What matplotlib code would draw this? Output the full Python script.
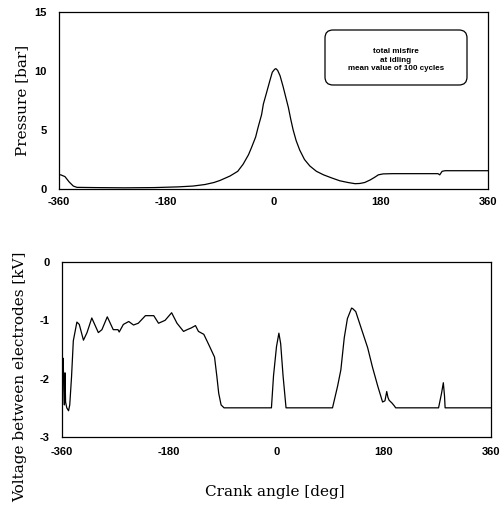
import matplotlib
matplotlib.use("Agg")
import matplotlib.pyplot as plt
from matplotlib.patches import FancyBboxPatch

plt.rcParams["axes.unicode_minus"] = False

# ---- data ----
x_ticks = [-360, -180, 0, 180, 360]
p_ticks = [0, 5, 10, 15]
v_ticks = [0, -1, -2, -3]

p_angle = [-360, -357, -350, -343, -336, -330, -300, -250, -200, -160, -135, -115,
           -100, -90, -73, -60, -51, -42, -37, -30, -26, -20, -17, -12, -6, -2,
           2, 4, 7, 11, 16, 20, 25, 29, 33, 38, 44, 52, 61, 72, 84, 97, 111, 125,
           137, 145, 153, 162, 170, 176, 184, 200, 235, 276, 279, 283, 288, 320, 360]
p_value = [1.2, 1.2, 1.05, 0.6, 0.25, 0.14, 0.12, 0.1, 0.12, 0.18, 0.25, 0.38,
           0.55, 0.72, 1.1, 1.5, 2.1, 2.9, 3.5, 4.4, 5.2, 6.3, 7.2, 8.1, 9.2, 9.9,
           10.15, 10.2, 10.05, 9.6, 8.7, 7.9, 6.9, 5.9, 5.0, 4.1, 3.3, 2.5, 1.95, 1.5, 1.2, 0.95, 0.7, 0.55,
           0.45, 0.47, 0.55, 0.76, 1.0, 1.2, 1.28, 1.3, 1.3, 1.3, 1.2, 1.5, 1.55, 1.55, 1.55]

v_angle = [-360, -359, -358, -357, -356, -355, -354, -352, -349, -347, -344, -341,
           -335, -331, -324, -318, -310, -299, -293, -284, -274, -266, -264, -257,
           -248, -240, -232, -220, -206, -198, -187, -176, -167, -156, -150, -143,
           -136, -131, -122, -114, -104, -100, -97, -93, -88,
           -8.5, -5, 0, 4, 7, 11, 16,
           94, 102.5, 108, 113.7, 119, 126, 128, 133, 142, 153, 161, 170, 178,
           182, 185, 187, 189, 194, 198, 200,
           272, 277, 280, 282, 283, 360]
v_value = [-2.3, -1.9, -1.65, -2.2, -2.45, -1.9, -2.4, -2.5, -2.55, -2.45, -1.97, -1.35,
           -1.03, -1.07, -1.34, -1.21, -0.96, -1.21, -1.16, -0.94, -1.16, -1.16, -1.2, -1.07,
           -1.02, -1.08, -1.05, -0.92, -0.92, -1.05, -1.0, -0.87, -1.05, -1.19, -1.16, -1.13,
           -1.09, -1.19, -1.24, -1.41, -1.63, -1.97, -2.25, -2.45, -2.5,
           -2.5, -1.95, -1.45, -1.22, -1.4, -1.95, -2.5,
           -2.5, -2.13, -1.85, -1.3, -0.97, -0.79, -0.8, -0.85, -1.13, -1.47, -1.8, -2.13, -2.4,
           -2.38, -2.22, -2.32, -2.37, -2.42, -2.47, -2.5,
           -2.5, -2.25, -2.07, -2.3, -2.5, -2.5]

legend_lines = "total misfire\nat idling\nmean value of 100 cycles"

# ---- figure ----
W, H = 500, 511
fig = plt.figure(figsize=(W / 100, H / 100), dpi=100)
fig.patch.set_facecolor("white")

def frac(l, t, r, b):
    return [l / W, 1 - b / H, (r - l) / W, (b - t) / H]

tick_font = dict(family="Liberation Sans", weight="bold", size=8)
label_font = dict(family="DejaVu Serif", size=11)

ax1 = fig.add_axes(frac(59, 12, 488, 189))
ax1.plot(p_angle, p_value, color="black", lw=0.9)
ax1.set_xlim(-360, 360)
ax1.set_ylim(0, 15)
ax1.set_xticks(x_ticks)
ax1.set_yticks(p_ticks)
ax1.tick_params(length=0, pad=6)
ax1.tick_params(axis="y", pad=9)

ax2 = fig.add_axes(frac(62, 262, 491, 437))
ax2.plot(v_angle, v_value, color="black", lw=0.9)
ax2.set_xlim(-360, 360)
ax2.set_ylim(-3, 0)
ax2.set_xticks(x_ticks)
ax2.set_yticks(v_ticks)
ax2.tick_params(length=0, pad=7)
ax2.tick_params(axis="y", pad=9)

for ax in (ax1, ax2):
    for s in ax.spines.values():
        s.set_linewidth(0.9)
    for lab in ax.get_xticklabels() + ax.get_yticklabels():
        lab.set_fontfamily(tick_font["family"])
        lab.set_fontweight(tick_font["weight"])
        lab.set_fontsize(tick_font["size"])

fig.text(22 / W, 1 - 100 / H, "Pressure [bar]", rotation=90, ha="center", va="center", **label_font)
fig.text(20 / W, 1 - 377 / H, "Voltage between electrodes [kV]", rotation=90, ha="center", va="center", **label_font)
fig.text(275 / W, 1 - 492 / H, "Crank angle [deg]", ha="center", va="center", **label_font)

box = FancyBboxPatch((325 / 100, (H - 85) / 100), 142 / 100, 55 / 100,
                     boxstyle="round,pad=0,rounding_size=0.08",
                     transform=fig.dpi_scale_trans, facecolor="white",
                     edgecolor="black", lw=0.9)
fig.patches.append(box)
fig.text(396 / W, 1 - 60 / H, legend_lines, ha="center", va="center",
         family="Liberation Sans", weight="bold", size=5.8, linespacing=1.25)

fig.savefig("out.png", dpi=100, facecolor="white")
